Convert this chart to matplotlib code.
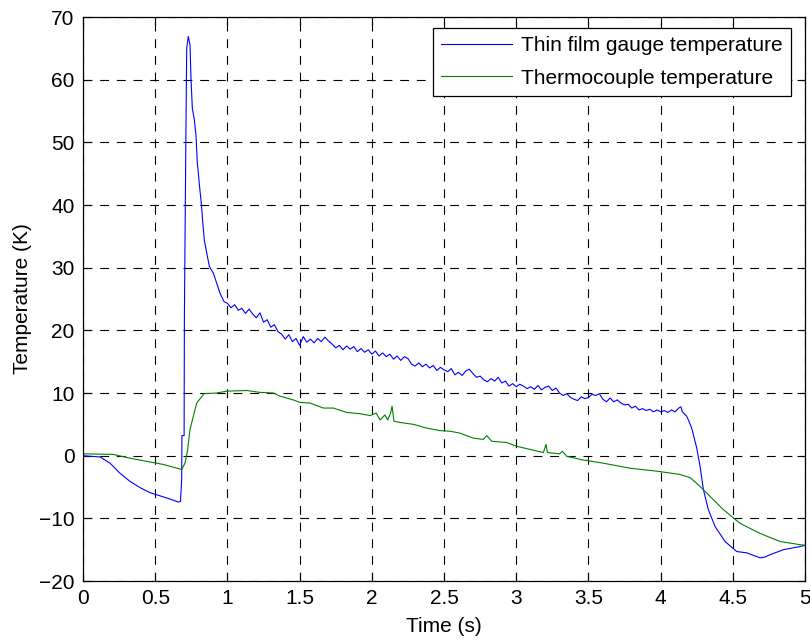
import numpy as np
import matplotlib.pyplot as plt

plt.rcParams['font.family'] = ['Liberation Sans', 'DejaVu Sans']

# thin film gauge temperature (K) vs time (s)
t_gauge = [0.0, 0.05, 0.118, 0.187, 0.256, 0.325, 0.395, 0.464, 0.533, 0.60, 0.66,
           0.675, 0.683, 0.685, 0.70, 0.702, 0.712, 0.718, 0.729, 0.741, 0.748,
           0.757, 0.771, 0.783, 0.791, 0.806, 0.819, 0.829, 0.84, 0.857, 0.875,
           0.903, 0.926, 0.949, 0.976,
           1.000, 1.025, 1.050, 1.075, 1.100, 1.125, 1.150, 1.175, 1.200, 1.225,
           1.250, 1.275, 1.300, 1.325, 1.350, 1.375, 1.400, 1.425, 1.450, 1.475,
           1.500, 1.525, 1.550, 1.575, 1.600, 1.625, 1.650, 1.675, 1.700, 1.725,
           1.750, 1.775, 1.800, 1.825, 1.850, 1.875, 1.900, 1.925, 1.950, 1.975,
           2.000, 2.025, 2.050, 2.075, 2.100, 2.125, 2.150, 2.175, 2.200, 2.225,
           2.250, 2.275, 2.300, 2.325, 2.350, 2.375, 2.400, 2.425, 2.450, 2.475,
           2.500, 2.525, 2.550, 2.575, 2.600, 2.625, 2.650, 2.675, 2.700, 2.725,
           2.750, 2.775, 2.800, 2.825, 2.850, 2.875, 2.900, 2.925, 2.950, 2.975,
           3.000, 3.025, 3.050, 3.075, 3.100, 3.125, 3.150, 3.175, 3.200, 3.225,
           3.250, 3.275, 3.300, 3.325, 3.350, 3.375, 3.400, 3.425, 3.450, 3.475,
           3.500, 3.525, 3.550, 3.575, 3.600, 3.625, 3.650, 3.675, 3.700, 3.725,
           3.750, 3.775, 3.800, 3.825, 3.850, 3.875, 3.900, 3.925, 3.950, 3.975,
           4.000, 4.025, 4.050, 4.075, 4.100, 4.125, 4.140, 4.150,
           4.180, 4.192, 4.215, 4.238, 4.250, 4.273, 4.296, 4.330, 4.377, 4.446,
           4.527, 4.596, 4.688, 4.720, 4.758, 4.850, 4.965, 5.0]
T_gauge = [0.0, -0.1, -0.2, -1.2, -2.8, -4.1, -5.1, -5.9, -6.4, -6.9, -7.4,
           -7.3, -3.8, 3.2, 3.2, 22.2, 50.4, 65.0, 66.9, 65.5, 60.0,
           55.4, 53.6, 50.9, 46.9, 43.2, 40.3, 37.3, 34.4, 32.3, 30.2,
           29.1, 27.5, 25.9, 24.6,
           24.3, 23.6, 24.1, 23.2, 23.5, 22.7, 23.4, 22.6, 22.0, 22.8,
           21.3, 21.7, 20.5, 20.9, 19.8, 19.4, 18.6, 19.3, 18.2, 18.7,
           17.6, 19.0, 18.1, 18.6, 18.0, 18.7, 18.2, 18.9, 18.3, 17.8,
           17.2, 17.6, 16.9, 17.5, 17.0, 17.4, 16.6, 17.1, 16.5, 16.9,
           16.2, 16.7, 15.9, 16.4, 15.8, 16.2, 15.4, 15.9, 15.2, 15.8,
           15.5, 14.6, 14.3, 14.8, 14.2, 14.6, 14.0, 14.4, 13.6, 14.1,
           13.7, 13.4, 13.9, 12.9, 13.3, 12.8, 13.5, 13.8, 13.1, 12.5,
           12.7, 12.1, 11.8, 12.3, 11.9, 12.5, 11.6, 11.9, 11.1, 11.5,
           11.0, 11.4, 11.1, 10.7, 11.0, 10.6, 11.2, 10.5, 10.9, 11.1,
           10.4, 10.8, 10.0, 9.6, 9.9, 9.3, 9.0, 8.8, 9.4, 9.1,
           9.3, 9.8, 9.6, 9.9, 9.0, 8.6, 9.2, 8.6, 8.9, 8.4,
           8.1, 8.2, 7.6, 7.9, 7.3, 7.5, 7.2, 7.4, 7.0, 7.3,
           7.0, 7.2, 6.9, 7.3, 7.0, 7.6, 7.8, 7.0,
           6.3, 5.7, 4.4, 2.3, 1.2, -1.7, -5.4, -8.6, -11.3, -13.7,
           -15.3, -15.5, -16.3, -16.2, -15.8, -15.0, -14.5, -14.3]

# thermocouple temperature (K) vs time (s)
t_tc = [0.0, 0.21, 0.325, 0.44, 0.556, 0.683, 0.706, 0.723, 0.741, 0.764,
        0.787, 0.838, 0.926, 0.995, 1.134, 1.226, 1.318, 1.364, 1.456, 1.503,
        1.572, 1.664, 1.733, 1.826, 1.918, 1.988, 2.03, 2.057, 2.09, 2.11,
        2.13, 2.14, 2.153, 2.195, 2.288, 2.38, 2.472, 2.542, 2.61, 2.703,
        2.772, 2.796, 2.83, 2.934, 3.003, 3.096, 3.188, 3.206, 3.216, 3.30,
        3.32, 3.35, 3.465, 3.58, 3.788, 3.984, 4.134, 4.204, 4.273, 4.342,
        4.434, 4.55, 4.688, 4.827, 4.965, 5.0]
T_tc = [0.3, 0.2, -0.4, -0.9, -1.4, -2.2, -1.2, 0.7, 4.2, 6.3,
        8.4, 9.9, 10.0, 10.3, 10.4, 10.1, 10.0, 9.5, 8.9, 8.5,
        8.4, 7.6, 7.6, 6.9, 6.7, 6.4, 6.8, 5.7, 6.5, 5.7,
        6.8, 7.9, 5.5, 5.3, 5.0, 4.4, 4.0, 3.9, 3.6, 2.8,
        2.6, 3.2, 2.3, 2.1, 1.5, 1.0, 0.5, 1.8, 0.5, 0.3,
        0.7, -0.1, -0.7, -1.1, -2.0, -2.5, -3.0, -3.5, -4.9, -6.5,
        -8.6, -10.8, -12.4, -13.7, -14.2, -14.3]

x_ticks = [0, 0.5, 1, 1.5, 2, 2.5, 3, 3.5, 4, 4.5, 5]
x_tick_labels = ['0', '0.5', '1', '1.5', '2', '2.5', '3', '3.5', '4', '4.5', '5']
y_ticks = [-20, -10, 0, 10, 20, 30, 40, 50, 60, 70]

fig = plt.figure(figsize=(8.1, 6.44), dpi=100)
ax = fig.add_axes([0.1025, 0.0978, 0.8914, 0.8758])

ax.plot(t_gauge, T_gauge, color=(0, 0, 1), lw=0.8,
        label='Thin film gauge temperature')
ax.plot(t_tc, T_tc, color=(0, 0.5, 0), lw=0.8, label='Thermocouple temperature')

ax.set_xlim(0, 5)
ax.set_ylim(-20, 70)
ax.set_xticks(x_ticks)
ax.set_xticklabels(x_tick_labels)
ax.set_yticks(y_ticks)
ax.tick_params(direction='in', length=6, width=0.8, top=True, right=True,
               labelsize=15, pad=6)
ax.grid(True, color='black', lw=0.8, linestyle=(0, (8, 7)))
ax.set_axisbelow(True)
for s in ax.spines.values():
    s.set_linewidth(0.9)

ax.set_xlabel('Time (s)', fontsize=15, labelpad=6)
ax.set_ylabel('Temperature (K)', fontsize=15, labelpad=5)

leg = ax.legend(loc='upper right', bbox_to_anchor=(0.9806, 0.9805),
                borderaxespad=0, fontsize=15, fancybox=False, framealpha=1,
                edgecolor='black', handlelength=3.4, handletextpad=0.45,
                borderpad=0.4, labelspacing=0.64)
leg.get_frame().set_linewidth(0.9)

fig.savefig('out.png', dpi=100)
